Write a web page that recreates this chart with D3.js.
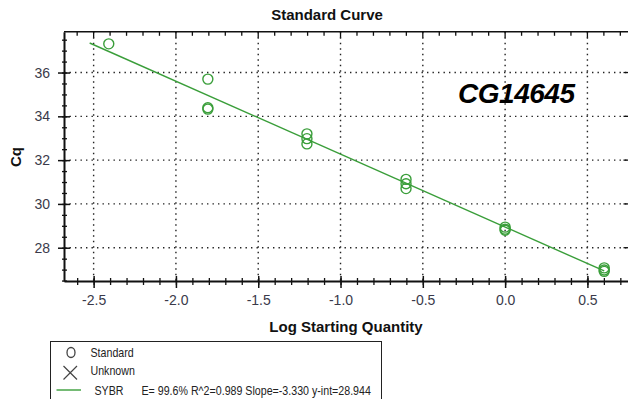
<!DOCTYPE html>
<html>
<head>
<meta charset="utf-8">
<script src="https://cdn.jsdelivr.net/npm/d3@7"></script>
<style>
  html, body { margin: 0; padding: 0; background: #fff; }
  svg { display: block; font-family: "Liberation Sans", Arial, sans-serif; }
</style>
</head>
<body>
<svg id="chart" width="628" height="399"></svg>
<script>
// Standard points: log starting quantity and measured Cq
const logQty = [-2.408, -1.806, -1.806, -1.806, -1.204, -1.204, -1.204,
                -0.602, -0.602, -0.602, 0, 0, 0, 0.602, 0.602, 0.602];
const cqValues = [37.31, 35.70, 34.33, 34.39, 33.20, 32.98, 32.74,
                  31.12, 30.92, 30.70, 28.94, 28.85, 28.80, 27.08, 26.98, 26.92];

// Fit parameters reported in the legend
const fitSlope = -3.330;
const fitIntercept = 28.944;
const fitRange = [-2.524, 0.602];

const xMajorTicks = [-2.5, -2.0, -1.5, -1.0, -0.5, 0.0, 0.5];
const xMinorTicks = d3.range(-26, 8).map(d => d / 10);
const yMajorTicks = [28, 30, 32, 34, 36];
const yMinorTicks = d3.range(53, 76).map(d => d / 2);

const legendItems = ["Standard", "Unknown"];
const seriesName = "SYBR";
const fitText = "E= 99.6% R^2=0.989 Slope=-3.330 y-int=28.944";

const green = "#3a9e3a";

const svg = d3.select("#chart");

const x = d3.scaleLinear().domain([-2.68, 0.78]).range([64, 633.5]);
const y = d3.scaleLinear().domain([26.48, 37.86]).range([281, 31.8]);

const [x0, x1] = x.range();
const [yb, yt] = y.range();

// dotted grid at major ticks
const grid = svg.append("g").attr("stroke", "#222").attr("stroke-width", 1.4)
  .attr("stroke-dasharray", "1.4,4.1");
grid.selectAll("line.h").data(yMajorTicks).join("line").attr("class", "h")
  .attr("x1", x0).attr("x2", x1).attr("y1", d => y(d)).attr("y2", d => y(d));
grid.selectAll("line.v").data(xMajorTicks).join("line").attr("class", "v")
  .attr("x1", d => x(d)).attr("x2", d => x(d)).attr("y1", yt).attr("y2", yb);

// frame: top and right borders with inward ticks
svg.append("line").attr("x1", x0).attr("x2", x1).attr("y1", yt).attr("y2", yt)
  .attr("stroke", "#111").attr("stroke-width", 1.6);
svg.append("line").attr("x1", x1).attr("x2", x1).attr("y1", yt).attr("y2", yb)
  .attr("stroke", "#111").attr("stroke-width", 1.6);
svg.append("g").selectAll("line").data(xMinorTicks).join("line")
  .attr("x1", d => x(d)).attr("x2", d => x(d)).attr("y1", yt)
  .attr("y2", d => yt + (xMajorTicks.some(m => Math.abs(m - d) < 1e-6) ? 6 : 4))
  .attr("stroke", "#111").attr("stroke-width", 1.3);
svg.append("g").selectAll("line").data(yMajorTicks).join("line")
  .attr("x1", x1 - 10).attr("x2", x1).attr("y1", d => y(d)).attr("y2", d => y(d))
  .attr("stroke", "#111").attr("stroke-width", 1.3);

// bottom axis
const xAxisMinor = svg.append("g").attr("transform", `translate(0,${yb})`)
  .call(d3.axisBottom(x).tickValues(xMinorTicks).tickSize(4).tickFormat(""));
xAxisMinor.selectAll(".tick line").attr("y1", -3).attr("stroke-width", 1.3).attr("stroke", "#111");
xAxisMinor.select(".domain").remove();

const xAxis = svg.append("g").attr("transform", `translate(0,${yb})`)
  .call(d3.axisBottom(x).tickValues(xMajorTicks).tickSize(7).tickSizeOuter(0)
    .tickFormat(d3.format(".1f")));
xAxis.select(".domain").attr("stroke", "#111").attr("stroke-width", 2);
xAxis.selectAll(".tick line").attr("y1", -5).attr("stroke-width", 1.5).attr("stroke", "#111");
xAxis.selectAll(".tick text").attr("font-size", 14).attr("fill", "#3a3a4a")
  .attr("y", 14).attr("font-family", "Liberation Sans, Arial, sans-serif")
  .text(d => d3.format(".1f")(d).replace("−", "-"));

// left axis
const yAxisMinor = svg.append("g").attr("transform", `translate(${x0},0)`)
  .call(d3.axisLeft(y).tickValues(yMinorTicks).tickSize(2).tickFormat(""));
yAxisMinor.selectAll(".tick line").attr("x1", 3).attr("stroke-width", 1.3).attr("stroke", "#111");
yAxisMinor.select(".domain").remove();

const yAxis = svg.append("g").attr("transform", `translate(${x0},0)`)
  .call(d3.axisLeft(y).tickValues(yMajorTicks).tickSize(6).tickSizeOuter(0).tickPadding(8));
yAxis.select(".domain").attr("stroke", "#111").attr("stroke-width", 2);
yAxis.selectAll(".tick line").attr("x1", 6).attr("stroke-width", 1.5).attr("stroke", "#111");
yAxis.selectAll(".tick text").attr("font-size", 14).attr("fill", "#3a3a4a")
  .attr("font-family", "Liberation Sans, Arial, sans-serif");

// fit line
const line = d3.line().x(d => x(d)).y(d => y(fitSlope * d + fitIntercept));
svg.append("path").datum(fitRange).attr("d", line)
  .attr("fill", "none").attr("stroke", green).attr("stroke-width", 1.4);

// standard points
svg.append("g").selectAll("circle").data(logQty).join("circle")
  .attr("cx", d => x(d)).attr("cy", (d, i) => y(cqValues[i])).attr("r", 5)
  .attr("fill", "none").attr("stroke", green).attr("stroke-width", 1.4);

// titles
svg.append("text").attr("x", 327).attr("y", 20).attr("text-anchor", "middle")
  .attr("font-size", 15).attr("font-weight", "bold").attr("fill", "#111")
  .text("Standard Curve");
svg.append("text").attr("x", 346).attr("y", 332).attr("text-anchor", "middle")
  .attr("font-size", 15).attr("font-weight", "bold").attr("fill", "#111")
  .text("Log Starting Quantity");
svg.append("text").attr("transform", "translate(21,157) rotate(-90)")
  .attr("text-anchor", "middle").attr("font-size", 15).attr("font-weight", "bold")
  .attr("fill", "#111").text("Cq");

svg.append("text").attr("x", 458).attr("y", 103)
  .attr("font-size", 28).attr("font-weight", "bold").attr("font-style", "italic")
  .attr("fill", "#000").attr("textLength", 117).text("CG14645");

// legend (narrow lettering via horizontal scale)
const lg = svg.append("g").attr("font-size", 13).attr("fill", "#222");
lg.append("rect").attr("x", 50.5).attr("y", 341.5).attr("width", 331).attr("height", 70)
  .attr("fill", "none").attr("stroke", "#222").attr("stroke-width", 1);
lg.append("ellipse").attr("cx", 71).attr("cy", 352.5).attr("rx", 4).attr("ry", 5)
  .attr("fill", "none").attr("stroke", "#444").attr("stroke-width", 1.3);
lg.append("path").attr("d", "M63.5,366 L77,379.5 M77,366 L63.5,379.5")
  .attr("fill", "none").attr("stroke", "#444").attr("stroke-width", 1.2);
const narrow = (px, py) => `translate(${px},${py}) scale(0.82,1)`;
lg.selectAll("text.item").data(legendItems).join("text").attr("class", "item")
  .attr("transform", (d, i) => narrow(90.5, 357 + i * 17.8)).text(d => d);
lg.append("line").attr("x1", 56.5).attr("x2", 81).attr("y1", 390).attr("y2", 390)
  .attr("stroke", green).attr("stroke-width", 1.4);
lg.append("text").attr("transform", narrow(94.5, 394.5)).text(seriesName);
lg.append("text").attr("transform", narrow(141.5, 394.5)).text(fitText);
</script>
</body>
</html>
